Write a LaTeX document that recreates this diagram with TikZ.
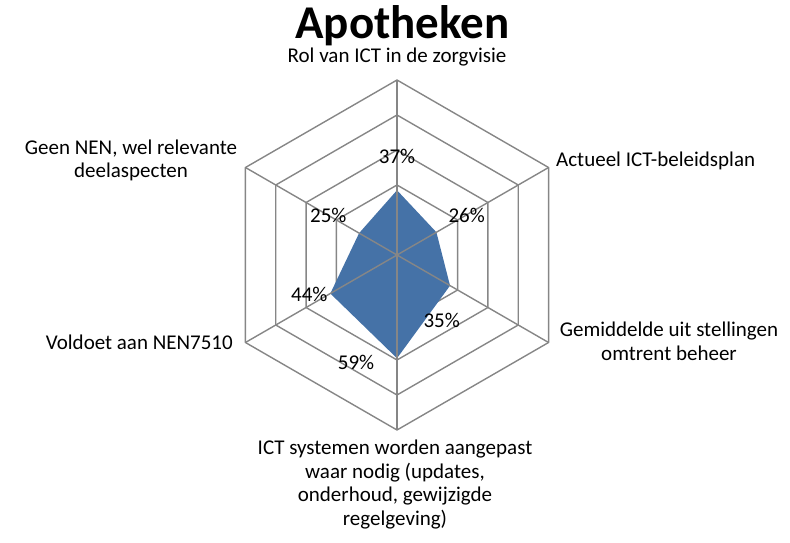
\documentclass[tikz,border=0pt]{standalone}
\usepackage{fontspec}
\setmainfont{Carlito}
\usetikzlibrary{positioning}

\begin{document}
\begin{tikzpicture}[x=1pt, y=1pt,
    grid/.style={draw=gridgray, line width=1.4pt, line join=round},
    catlabel/.style={font=\fontsize{21}{23.5}\selectfont, align=center,
                     inner sep=0pt, anchor=base},
    pctlabel/.style={font=\fontsize{21}{23.5}\selectfont, inner sep=0pt,
                     anchor=base},
    charttitle/.style={font=\fontsize{47}{52}\selectfont\bfseries,
                       inner sep=0pt, anchor=base}
]
% Excel-achtige radargrafiek: grijze ringen per 20%, blauwe vlakken
\definecolor{gridgray}{HTML}{868686}
\definecolor{areablue}{HTML}{4572A7}
\useasboundingbox (0,0) rectangle (790,542);

\node[charttitle] (title) at (402.5,503) {Apotheken};

\begin{scope}[shift={(397,287)}]
\coordinate (c) at (0,0);
\foreach \a [count=\i] in {90,30,-30,-90,-150,150}
    \coordinate (o\i) at (\a:175);
\foreach \r in {35,70,105,140,175}
    \draw[grid] (90:\r) -- (30:\r) -- (-30:\r) -- (-90:\r)
                -- (-150:\r) -- (150:\r) -- cycle;

% waarden 37, 26, 35, 59, 44 en 25 procent
\coordinate (v1) at (90:64.75);
\coordinate (v2) at (30:45.5);
\coordinate (v3) at (-30:61.25);
\coordinate (v4) at (-90:103.25);
\coordinate (v5) at (-150:77);
\coordinate (v6) at (150:43.75);
\fill[areablue] (v1) -- (v2) -- (v3) -- (v4) -- (v5) -- (v6) -- cycle;

\foreach \i in {1,...,6}
    \draw[grid] (c) -- (o\i);
\end{scope}

\node[pctlabel] (p1) at (397,378.6) {37\%};
\node[pctlabel] (p2) at (466.7,319.3) {26\%};
\node[pctlabel] (p3) at (441.7,214.6) {35\%};
\node[pctlabel] (p4) at (356,172.3) {59\%};
\node[pctlabel] (p5) at (309.3,241) {44\%};
\node[pctlabel] (p6) at (328.3,319.3) {25\%};

\node[catlabel] (k1) at (397,479) {Rol van ICT in de zorgvisie};
\node[catlabel, anchor=base west] (k2) at (556,375) {Actueel ICT-beleidsplan};
\node[catlabel] (k3) at (669,182) {Gemiddelde uit stellingen\\omtrent beheer};
\node[catlabel] (k4) at (395,17) {ICT systemen worden aangepast\\waar nodig (updates,\\onderhoud, gewijzigde\\regelgeving)};
\node[catlabel, anchor=base east] (k5) at (233,193) {Voldoet aan NEN7510};
\node[catlabel] (k6) at (131,364) {Geen NEN, wel relevante\\deelaspecten};
\end{tikzpicture}
\end{document}
